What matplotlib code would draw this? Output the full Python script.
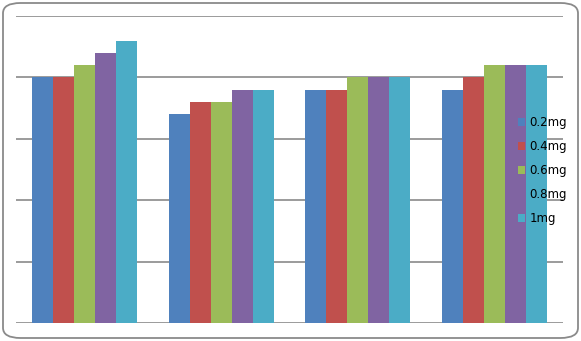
import matplotlib
matplotlib.use("Agg")
import matplotlib.pyplot as plt
from matplotlib.patches import FancyBboxPatch, Patch
import numpy as np

categories = ["A", "B", "C", "D"]
series_names = ["0.2mg", "0.4mg", "0.6mg", "0.8mg", "1mg"]
v_02 = [20, 17, 19, 19]
v_04 = [20, 18, 19, 20]
v_06 = [21, 18, 20, 21]
v_08 = [22, 19, 20, 21]
v_1 = [23, 19, 20, 21]
series_values = [v_02, v_04, v_06, v_08, v_1]
colors = ["#4F81BD", "#C0504D", "#9BBB59", "#8064A2", "#4BACC6"]

W, H = 581, 341
fig = plt.figure(figsize=(W / 100, H / 100), dpi=100)

border = FancyBboxPatch((3 / W, 3 / H), 575 / W, 335 / H,
                        boxstyle="round,pad=0,rounding_size=0.03",
                        transform=fig.transFigure, facecolor="none",
                        edgecolor="#8a8a8a", linewidth=1.3, zorder=-1)
fig.patches.append(border)

ax = fig.add_axes([16 / W, (H - 323) / H, (563 - 16) / W, (323 - 16) / H])
ax.patch.set_alpha(0)
x = np.arange(len(categories))
bw = 21 / 136.5
for i, (vals, c) in enumerate(zip(series_values, colors)):
    ax.bar(x + (i - 2) * bw, vals, width=bw, color=c, zorder=3, linewidth=0)

ax.set_xlim(-0.5, len(categories) - 0.5)
ax.set_ylim(0, 25)
ax.set_yticks([0, 5, 10, 15, 20, 25])
ax.yaxis.grid(True, color="#8a8a8a", linewidth=1.2, zorder=1)
ax.set_axisbelow(True)
for s in ax.spines.values():
    s.set_visible(False)
ax.tick_params(left=False, bottom=False, labelleft=False, labelbottom=False)

handles = [Patch(facecolor=c, edgecolor="none") for c in colors]
leg = fig.legend(handles, series_names, loc="upper left",
                 bbox_to_anchor=(518 / W, 1 - 116 / H), frameon=False,
                 fontsize=8.5, handlelength=0.6, handleheight=0.6,
                 handletextpad=0.35, labelspacing=0.93, borderpad=0,
                 borderaxespad=0)
leg.set_zorder(10)

fig.savefig("out.png", dpi=100)
